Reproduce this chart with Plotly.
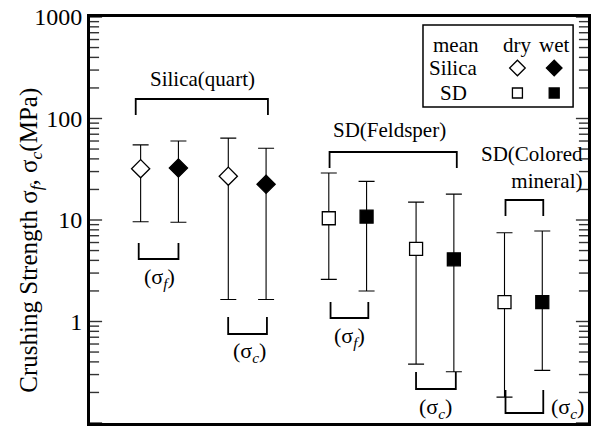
import plotly.graph_objects as go

# ---- data (MPa) ----
mineral = ["Silica", "Silica", "Silica", "Silica",
           "SD(Feldsper)", "SD(Feldsper)", "SD(Feldsper)", "SD(Feldsper)",
           "SD(Colored mineral)", "SD(Colored mineral)"]
condition = ["dry", "wet", "dry", "wet", "dry", "wet", "dry", "wet", "dry", "wet"]
strength = ["σf", "σf", "σc", "σc", "σf", "σf", "σc", "σc", "σc", "σc"]
mean_mpa = [32.0, 32.5, 27.0, 22.5, 10.4, 10.8, 5.2, 4.1, 1.55, 1.55]
upper_mpa = [55.0, 60.0, 64.0, 51.0, 29.0, 24.0, 15.0, 18.0, 7.5, 7.8]
lower_mpa = [9.6, 9.5, 1.65, 1.65, 2.6, 2.0, 0.38, 0.32, 0.18, 0.33]

ytick_vals = [0.1, 1, 10, 100, 1000]
ytick_text = ["0.1", "1", "10", "100", "1000"]

# ---- layout of the x positions (slot units) ----
pair_centers = [1.84, 4.16, 6.82, 9.13, 11.47]
pair_offset = 0.5
x_range = [0, 13.18]

FONT = "Liberation Serif, Times New Roman, Tinos, serif"

fig = go.Figure()

# inside tick marks on both vertical frame edges (drawn as thin line segments)
minor_vals = [v * m for v in [0.1, 1, 10, 100] for m in range(2, 10)]
major_len, minor_len = 0.32, 0.24
tx, ty = [], []
for vals, ln in ((ytick_vals, major_len), (minor_vals, minor_len)):
    for v in vals:
        tx += [x_range[0], x_range[0] + ln, None, x_range[1] - ln, x_range[1], None]
        ty += [v, v, None, v, v, None]
fig.add_trace(go.Scatter(x=tx, y=ty, mode="lines", line=dict(color="#333", width=1.4),
                         showlegend=False, hoverinfo="skip", xaxis="x", yaxis="y"))

for i in range(len(mean_mpa)):
    pc = pair_centers[i // 2]
    x = pc - pair_offset if condition[i] == "dry" else pc + pair_offset
    sym = "diamond" if mineral[i] == "Silica" else "square"
    size = 14 if sym == "diamond" else 13
    fill = "white" if condition[i] == "dry" else "black"
    fig.add_trace(go.Scatter(
        x=[x], y=[mean_mpa[i]], mode="markers",
        marker=dict(symbol=sym, size=size, color=fill,
                    line=dict(color="black", width=1.3)),
        error_y=dict(type="data", symmetric=False,
                     array=[upper_mpa[i] - mean_mpa[i]],
                     arrayminus=[mean_mpa[i] - lower_mpa[i]],
                     color="black", thickness=1.1, width=8),
        showlegend=False, hoverinfo="skip", xaxis="x", yaxis="y"))

# legend-like key drawn on an overlay pixel axis
key_pts = [(520, 68, "diamond", "white", 12), (557, 68, "diamond", "black", 12),
           (520, 93, "square", "white", 10), (557, 93, "square", "black", 10)]
for (kx, ky, ks, kc, kz) in key_pts:
    fig.add_trace(go.Scatter(
        x=[kx], y=[ky], mode="markers", xaxis="x2", yaxis="y2",
        marker=dict(symbol=ks, size=kz, color=kc, line=dict(color="black", width=1.3)),
        showlegend=False, hoverinfo="skip"))

shapes = []
brackets = [
    (136, 269, 115, 99), (331, 459, 168, 152), (508, 546, 216, 200),
    (139, 179, 243, 259), (229, 268, 317, 334), (332, 370, 302, 318),
    (418, 458, 372, 389), (508, 546, 390, 413),
]
for (xa, xb, yend, ybar) in brackets:
    shapes.append(dict(type="path", xref="x2", yref="y2",
                       path=f"M{xa},{yend} L{xa},{ybar} L{xb},{ybar} L{xb},{yend}",
                       line=dict(color="black", width=1.8)))
shapes.append(dict(type="rect", xref="x2", yref="y2", x0=425, x1=576, y0=25, y1=107,
                   line=dict(color="black", width=1.5), fillcolor="white", layer="below"))

sf = "(σ<sub><i>f</i></sub>)"
sc = "(σ<sub><i>c</i></sub>)"
ann_specs = [
    ("Silica(quart)", 203, 79, "center", 21),
    ("SD(Feldsper)", 391, 130, "center", 21),
    ("SD(Colored<br>mineral)", 588, 167, "right", 21),
    (sf, 160, 278, "center", 22), (sf, 351, 337, "center", 22),
    (sc, 250, 352, "center", 22), (sc, 438, 408, "center", 22), (sc, 570, 408, "center", 22),
    ("mean", 458, 45, "center", 21), ("dry", 520, 45, "center", 21), ("wet", 557, 45, "center", 21),
    ("Silica", 456, 68, "center", 21), ("SD", 456, 93, "center", 21),
]
annotations = []
for (t, ax_, ay_, anc, fs) in ann_specs:
    annotations.append(dict(text=t, x=ax_, y=ay_, xref="x2", yref="y2",
                            xanchor=anc, yanchor="middle", align=anc, showarrow=False,
                            font=dict(family=FONT, size=fs, color="black")))

# y-axis title as rotated annotation (positioned in paper units)
annotations.append(dict(
    text="Crushing Strength σ<sub><i>f</i></sub>, σ<sub><i>c</i></sub>(MPa)",
    x=(30 - 90) / 501, y=0.45, xref="paper", yref="paper", textangle=-90,
    xanchor="center", yanchor="middle", showarrow=False,
    font=dict(family=FONT, size=25, color="black")))

fig.update_layout(
    width=593, height=435,
    margin=dict(l=90, r=2, t=17, b=12),
    plot_bgcolor="white", paper_bgcolor="white",
    shapes=shapes, annotations=annotations,
    font=dict(family=FONT, color="black"),
    xaxis=dict(range=x_range, showticklabels=False, ticks="", showgrid=False,
               zeroline=False, showline=True, linecolor="black", linewidth=3, mirror=True),
    yaxis=dict(type="log", range=[-1, 3], tickvals=ytick_vals, ticktext=ytick_text,
               ticks="", showgrid=False, zeroline=False, showline=True, linecolor="black",
               linewidth=3, mirror=True,
               tickfont=dict(family=FONT, size=24, color="black")),
    xaxis2=dict(overlaying="x", range=[90, 591], visible=False, anchor="y2"),
    yaxis2=dict(overlaying="y", range=[423, 17], visible=False, anchor="x2"),
)

fig.write_html("out.html")
